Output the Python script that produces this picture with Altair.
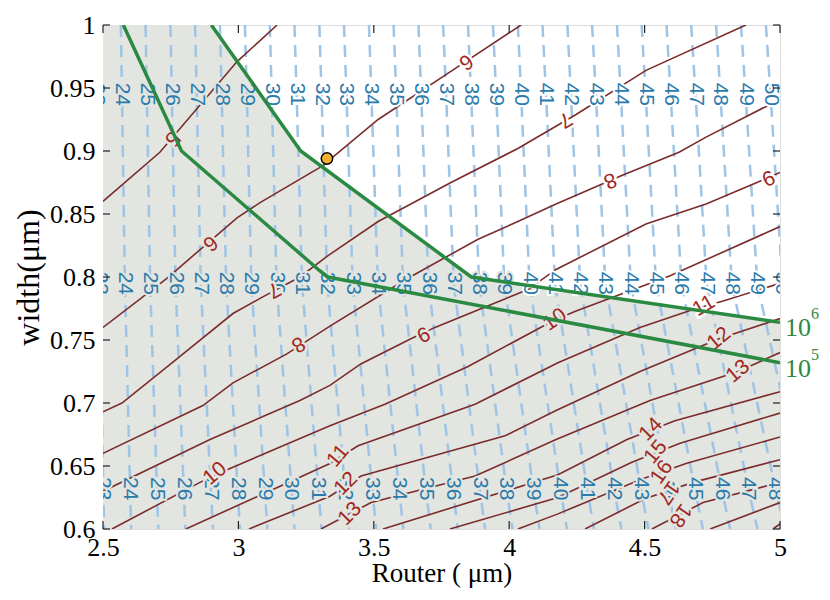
import altair as alt
import pandas as pd
import numpy as np

# ---------------- data ----------------
x_ticks = [2.5, 3.0, 3.5, 4.0, 4.5, 5.0]
y_ticks = [0.6, 0.65, 0.7, 0.75, 0.8, 0.85, 0.9, 0.95, 1.0]

# light-blue dashed contours (levels 23..50): x position at several widths
blue_levels = list(range(23, 51))
blue_y = [1.0, 0.945, 0.795, 0.632, 0.6]
blue_x_100 = [2.475, 2.566, 2.657, 2.749, 2.840, 2.932, 3.024, 3.116, 3.207, 3.299, 3.390, 3.482, 3.573, 3.665,
              3.756, 3.848, 3.940, 4.032, 4.123, 4.215, 4.306, 4.398, 4.489, 4.581, 4.672, 4.764, 4.856, 4.948]
blue_x_0945 = [2.478, 2.570, 2.662, 2.754, 2.846, 2.938, 3.031, 3.123, 3.215, 3.307, 3.399, 3.491, 3.583, 3.675,
               3.767, 3.859, 3.952, 4.044, 4.136, 4.228, 4.320, 4.412, 4.504, 4.596, 4.688, 4.780, 4.873, 4.965]
blue_x_0795 = [2.488, 2.581, 2.674, 2.768, 2.861, 2.955, 3.048, 3.141, 3.235, 3.328, 3.422, 3.515, 3.608, 3.702,
               3.795, 3.889, 3.982, 4.075, 4.169, 4.262, 4.355, 4.449, 4.542, 4.636, 4.729, 4.822, 4.916, 5.009]
blue_x_0632 = [2.501, 2.600, 2.699, 2.798, 2.898, 2.997, 3.097, 3.196, 3.295, 3.394, 3.494, 3.593, 3.692, 3.792,
               3.891, 3.990, 4.089, 4.189, 4.288, 4.387, 4.486, 4.586, 4.685, 4.784, 4.883, 4.983, 5.082, 5.181]
blue_x_060 = [2.504, 2.604, 2.704, 2.804, 2.906, 3.006, 3.107, 3.207, 3.307, 3.408, 3.509, 3.609, 3.710, 3.810,
              3.911, 4.012, 4.112, 4.213, 4.313, 4.414, 4.514, 4.615, 4.715, 4.816, 4.917, 5.018, 5.118, 5.218]
blue_label_rows = [1, 2, 3]  # indices into blue_y where labels sit

# dark-red contours (levels 5..20)
c5_x = [2.5, 2.71, 2.995, 3.143]
c5_y = [0.860, 0.899, 0.971, 1.0]
c6_x = [2.5, 2.736, 2.995, 3.080, 3.309, 3.516, 3.811, 4.044]
c6_y = [0.760, 0.799, 0.847, 0.859, 0.888, 0.925, 0.967, 1.0]
c7_x = [2.5, 2.570, 2.773, 2.980, 3.080, 3.227, 3.331, 3.516, 3.785, 4.032, 4.247, 4.505, 4.874]
c7_y = [0.693, 0.700, 0.735, 0.771, 0.783, 0.800, 0.817, 0.844, 0.875, 0.902, 0.929, 0.964, 1.0]
c8_x = [2.5, 2.869, 2.980, 3.179, 3.338, 3.626, 3.885, 4.032, 4.173, 4.420, 4.627, 4.727, 5.0]
c8_y = [0.660, 0.698, 0.716, 0.739, 0.761, 0.799, 0.830, 0.844, 0.858, 0.881, 0.899, 0.911, 0.941]
c9_x = [2.5, 2.895, 3.227, 3.338, 3.452, 3.637, 3.726, 4.069, 4.173, 4.505, 4.727, 4.915, 5.0]
c9_y = [0.630, 0.671, 0.702, 0.714, 0.731, 0.751, 0.760, 0.790, 0.806, 0.842, 0.858, 0.875, 0.883]
c10_x = [2.533, 2.858, 2.969, 3.338, 3.541, 3.848, 4.169, 4.247, 4.594, 5.0]
c10_y = [0.600, 0.637, 0.648, 0.682, 0.699, 0.729, 0.766, 0.773, 0.801, 0.840]
c11_x = [2.806, 3.338, 3.442, 3.874, 4.180, 4.483, 4.690, 4.790, 5.0]
c11_y = [0.600, 0.652, 0.666, 0.699, 0.732, 0.760, 0.775, 0.781, 0.795]
c12_x = [3.039, 3.338, 3.453, 3.985, 4.173, 4.483, 4.775, 5.0]
c12_y = [0.600, 0.626, 0.642, 0.674, 0.694, 0.725, 0.751, 0.767]
c13_x = [3.305, 3.490, 3.874, 4.173, 4.520, 4.845, 5.0]
c13_y = [0.600, 0.621, 0.642, 0.671, 0.702, 0.725, 0.740]
c14_x = [3.534, 4.180, 4.435, 4.612, 5.0]
c14_y = [0.600, 0.643, 0.671, 0.686, 0.709]
c15_x = [3.781, 4.180, 4.453, 4.631, 5.0]
c15_y = [0.600, 0.625, 0.653, 0.668, 0.692]
c16_x = [4.032, 4.180, 4.483, 4.653, 5.0]
c16_y = [0.600, 0.612, 0.639, 0.652, 0.673]
c17_x = [4.280, 4.501, 4.679, 5.0]
c17_y = [0.600, 0.624, 0.637, 0.655]
c18_x = [4.527, 4.716, 5.0]
c18_y = [0.600, 0.621, 0.637]
c19_x = [4.742, 5.0]
c19_y = [0.600, 0.621]
c20_x = [4.974, 5.0]
c20_y = [0.600, 0.604]

brown_label_text = ["5", "6", "6", "7", "7", "8", "8", "9", "9", "10", "10", "11", "11",
                    "12", "12", "13", "13", "14", "15", "16", "17", "18"]
brown_label_x = [2.755, 2.895, 3.840, 3.131, 4.206, 3.220, 4.372, 3.682, 4.956, 2.914, 4.169, 3.368, 4.719,
                 3.397, 4.775, 3.412, 4.845, 4.524, 4.542, 4.564, 4.586, 4.631]
brown_label_y = [0.910, 0.827, 0.971, 0.790, 0.925, 0.747, 0.877, 0.755, 0.879, 0.644, 0.766, 0.658, 0.777,
                 0.636, 0.751, 0.612, 0.725, 0.679, 0.661, 0.645, 0.629, 0.611]
brown_label_angle = [130, 139, 146, 151, 149, 149, 157, 153, 156, -40, -35, -50, -30,
                     -45, -40, -45, -40, -45, -50, -55, 125, 125]

# green boundary lines (10^6 upper, 10^5 lower)
g6_x = [2.90, 3.23, 3.86, 5.0]
g6_y = [1.0, 0.9, 0.8, 0.764]
g5_x = [2.575, 2.79, 3.30, 3.33, 5.0]
g5_y = [1.0, 0.9, 0.805, 0.8, 0.732]

# optimum point
opt_x = [3.327]
opt_y = [0.894]

# ---------------- styles ----------------
W, H = 677, 504
GRAY = "#e3e5e0"
LBLUE = "#9ec4e6"
BLUE_TXT = "#2b7bab"
BROWN = "#7a2c2c"
BROWN_TXT = "#a0281e"
GREEN = "#2b8a42"
SERIF = "Liberation Serif"
SANS = "Liberation Sans"

xs = alt.Scale(domain=[2.5, 5.0], nice=False, zero=False)
ys = alt.Scale(domain=[0.6, 1.0], nice=False, zero=False)
x_axis = alt.Axis(values=x_ticks, format=".1~f", labelFont=SERIF, labelFontSize=26, labelColor="black",
                  labelPadding=5, ticks=False, domain=False, grid=False, title="Router ( μm)",
                  titleFont=SERIF, titleFontSize=27, titleFontWeight="normal", titleColor="black",
                  titlePadding=0, labelFlush=False)
y_axis = alt.Axis(values=y_ticks, format=".2~f", labelFont=SERIF, labelFontSize=26, labelColor="black",
                  labelPadding=8, ticks=False, domain=False, grid=False, title="width(μm)",
                  titleFont=SERIF, titleFontSize=32, titleFontWeight="normal", titleColor="black",
                  titlePadding=4, labelFlush=False)
X = alt.X("x:Q", scale=xs, axis=x_axis)
Y = alt.Y("y:Q", scale=ys, axis=y_axis)


def bg_for(x, y):
    return "white" if y > np.interp(x, g6_x, g6_y) else GRAY


# ---------------- tables ----------------
area_df = pd.DataFrame({"x": [2.5] + g6_x, "y": [1.0] + g6_y})

blue_cols = [blue_x_100, blue_x_0945, blue_x_0795, blue_x_0632, blue_x_060]
rows, lab = [], []
for i, lv in enumerate(blue_levels):
    for j, (yy, col) in enumerate(zip(blue_y, blue_cols)):
        rows.append({"x": col[i], "y": yy, "lvl": lv, "o": j})
        if j in blue_label_rows and 2.45 <= col[i] <= 5.03:
            lab.append({"x": col[i], "y": yy, "t": str(lv), "bg": bg_for(col[i], yy)})
blue_df = pd.DataFrame(rows)
blue_lab_df = pd.DataFrame(lab)

brown_sets = [(5, c5_x, c5_y), (6, c6_x, c6_y), (7, c7_x, c7_y), (8, c8_x, c8_y), (9, c9_x, c9_y),
              (10, c10_x, c10_y), (11, c11_x, c11_y), (12, c12_x, c12_y), (13, c13_x, c13_y),
              (14, c14_x, c14_y), (15, c15_x, c15_y), (16, c16_x, c16_y), (17, c17_x, c17_y),
              (18, c18_x, c18_y), (19, c19_x, c19_y), (20, c20_x, c20_y)]
brown_df = pd.DataFrame([{"x": xv, "y": yv, "lvl": lv, "o": k}
                         for lv, xl, yl in brown_sets for k, (xv, yv) in enumerate(zip(xl, yl))])
brown_lab_df = pd.DataFrame({"x": brown_label_x, "y": brown_label_y, "t": brown_label_text,
                             "ang": brown_label_angle,
                             "bg": [bg_for(a, b) for a, b in zip(brown_label_x, brown_label_y)]})

green_df = pd.DataFrame([{"x": xv, "y": yv, "g": g, "o": k}
                         for g, xl, yl in [("6", g6_x, g6_y), ("5", g5_x, g5_y)]
                         for k, (xv, yv) in enumerate(zip(xl, yl))])
green_lab_df = pd.DataFrame({"x": [g6_x[-1], g5_x[-1]], "y": [g6_y[-1], g5_y[-1]],
                             "base": ["10", "10"], "sup": ["6", "5"]})
opt_df = pd.DataFrame({"x": opt_x, "y": opt_y})
ytick_df = pd.DataFrame({"y": y_ticks})
xtick_df = pd.DataFrame({"x": x_ticks})

# ---------------- layers ----------------
area = alt.Chart(area_df).mark_area(color=GRAY, clip=True).encode(x=X, y=Y, y2=alt.datum(0.6))
blue = alt.Chart(blue_df).mark_line(color=LBLUE, strokeWidth=2.5, strokeDash=[12, 8], clip=True).encode(
    x=X, y=Y, detail="lvl:N", order="o:Q")
brown = alt.Chart(brown_df).mark_line(color=BROWN, strokeWidth=1.6, clip=True).encode(
    x=X, y=Y, detail="lvl:N", order="o:Q")
blue_halo = alt.Chart(blue_lab_df).mark_text(angle=90, font=SANS, fontSize=21, strokeWidth=4,
                                             baseline="middle", align="center", clip=True).encode(
    x=X, y=Y, text="t:N", fill=alt.Fill("bg:N", scale=None), stroke=alt.Stroke("bg:N", scale=None))
blue_text = alt.Chart(blue_lab_df).mark_text(angle=90, font=SANS, fontSize=21, color=BLUE_TXT,
                                             baseline="middle", align="center", clip=True).encode(
    x=X, y=Y, text="t:N")
brown_halo = alt.Chart(brown_lab_df).mark_text(font=SANS, fontSize=21, strokeWidth=5,
                                               baseline="middle", align="center", clip=True).encode(
    x=X, y=Y, text="t:N", angle=alt.Angle("ang:Q", scale=None),
    fill=alt.Fill("bg:N", scale=None), stroke=alt.Stroke("bg:N", scale=None))
brown_text = alt.Chart(brown_lab_df).mark_text(font=SANS, fontSize=21, color=BROWN_TXT,
                                               baseline="middle", align="center", clip=True).encode(
    x=X, y=Y, text="t:N", angle=alt.Angle("ang:Q", scale=None))
green = alt.Chart(green_df).mark_line(color=GREEN, strokeWidth=3.5, clip=True).encode(
    x=X, y=Y, detail="g:N", order="o:Q")
green_base = alt.Chart(green_lab_df).mark_text(font=SERIF, fontSize=26, color=GREEN, align="left",
                                               baseline="middle", dx=5, dy=6).encode(x=X, y=Y, text="base:N")
green_sup = alt.Chart(green_lab_df).mark_text(font=SERIF, fontSize=16, color=GREEN, align="left",
                                              baseline="middle", dx=31, dy=-8).encode(x=X, y=Y, text="sup:N")
opt = alt.Chart(opt_df).mark_point(filled=True, size=130, fill="#f2b134", stroke="black", strokeWidth=1.5,
                                   opacity=1).encode(x=X, y=Y)
tick_l = alt.Chart(ytick_df).mark_rule(color="#222", strokeWidth=1.2).encode(
    y=Y, x=alt.value(0), x2=alt.value(7))
tick_r = alt.Chart(ytick_df).mark_rule(color="#222", strokeWidth=1.2).encode(
    y=Y, x=alt.value(W), x2=alt.value(W - 7))
tick_b = alt.Chart(xtick_df).mark_rule(color="#222", strokeWidth=1.2).encode(
    x=X, y=alt.value(H), y2=alt.value(H - 8))
tick_t = alt.Chart(xtick_df).mark_rule(color="#222", strokeWidth=1.2).encode(
    x=X, y=alt.value(0), y2=alt.value(8))

chart = alt.layer(area, blue, brown, blue_halo, blue_text, brown_halo, brown_text, green,
                  green_base, green_sup, opt, tick_l, tick_r, tick_b, tick_t).properties(
    width=W, height=H,
    autosize=alt.AutoSizeParams(type="none"),
    padding={"left": 95, "top": 17, "right": 42, "bottom": 63},
).configure_view(stroke="#222", strokeWidth=1.5).configure(background="white")

chart.save("out.html", embed_options={"renderer": "svg", "actions": False})
